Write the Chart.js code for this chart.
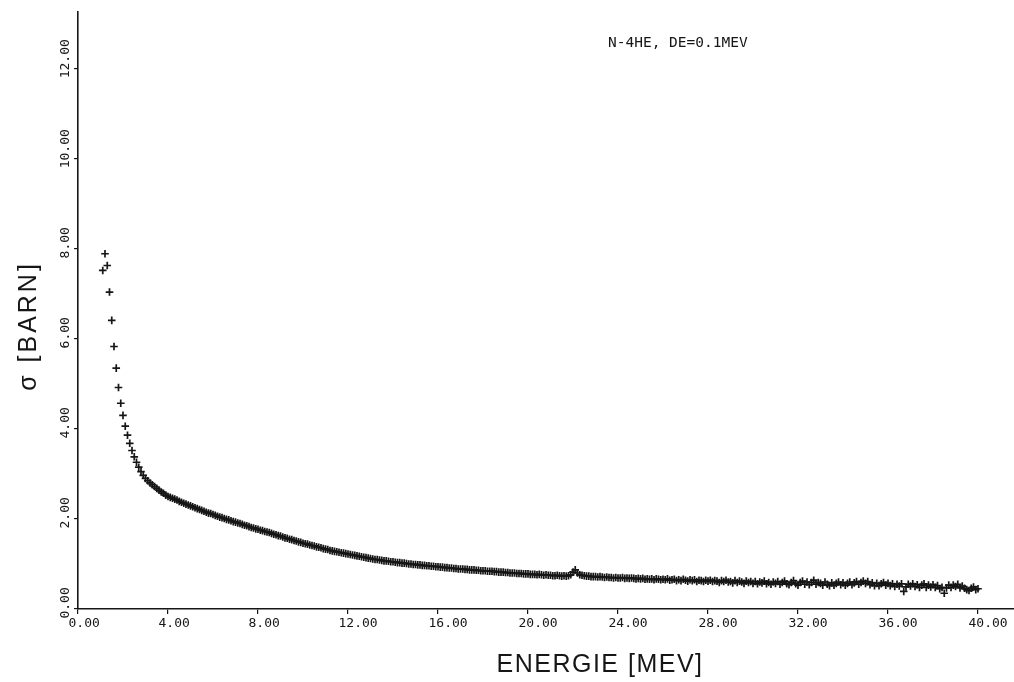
<!DOCTYPE html>
<html><head><meta charset="utf-8">
<script src="https://cdn.jsdelivr.net/npm/chart.js@4/dist/chart.umd.min.js"></script>
<style>html,body{margin:0;padding:0;background:#fff;}canvas{display:block;}</style>
</head><body>
<canvas id="c" width="1014" height="682"></canvas>
<script>
// Energy grid: DE = 0.1 MeV, first point at 1.1 MeV
const E_START = 1.1;
const E_STEP = 0.1;

// Cross section sigma [barn], one value per 0.1 MeV
const sigma = [
  7.52, 7.89, 7.63, 7.04, 6.41, 5.83, 5.35, 4.92, 4.57,
  4.30, 4.06, 3.86, 3.68, 3.52, 3.38, 3.26, 3.15, 3.05, 2.97,
  2.90, 2.85, 2.80, 2.76, 2.72, 2.68, 2.64, 2.60, 2.57, 2.53,
  2.50, 2.48, 2.46, 2.44, 2.42, 2.39, 2.37, 2.35, 2.33, 2.31,
  2.29, 2.27, 2.25, 2.23, 2.21, 2.19, 2.17, 2.15, 2.13, 2.12,
  2.10, 2.08, 2.06, 2.04, 2.03, 2.01, 1.99, 1.98, 1.96, 1.94,
  1.93, 1.91, 1.90, 1.88, 1.86, 1.85, 1.83, 1.81, 1.80, 1.78,
  1.77, 1.75, 1.74, 1.72, 1.71, 1.70, 1.68, 1.66, 1.65, 1.63,
  1.62, 1.60, 1.58, 1.57, 1.55, 1.54, 1.52, 1.51, 1.49, 1.48,
  1.46, 1.45, 1.44, 1.42, 1.41, 1.40, 1.38, 1.37, 1.36, 1.34,
  1.33, 1.32, 1.30, 1.29, 1.28, 1.27, 1.26, 1.25, 1.24, 1.23,
  1.22, 1.21, 1.20, 1.19, 1.18, 1.17, 1.16, 1.15, 1.14, 1.13,
  1.12, 1.11, 1.10, 1.10, 1.09, 1.08, 1.07, 1.07, 1.06, 1.05,
  1.05, 1.04, 1.03, 1.03, 1.02, 1.02, 1.01, 1.00, 1.00, 0.99,
  0.99, 0.98, 0.98, 0.97, 0.97, 0.96, 0.96, 0.95, 0.95, 0.94,
  0.94, 0.93, 0.93, 0.92, 0.92, 0.91, 0.91, 0.90, 0.90, 0.89,
  0.89, 0.89, 0.88, 0.88, 0.87, 0.87, 0.87, 0.86, 0.86, 0.85,
  0.85, 0.85, 0.84, 0.84, 0.84, 0.83, 0.83, 0.82, 0.82, 0.82,
  0.81, 0.81, 0.80, 0.80, 0.80, 0.79, 0.79, 0.79, 0.78, 0.78,
  0.78, 0.77, 0.77, 0.77, 0.76, 0.77, 0.76, 0.75, 0.76, 0.75,
  0.75, 0.74, 0.74, 0.75, 0.74, 0.73, 0.74, 0.73, 0.74, 0.76,
  0.82, 0.87, 0.80, 0.76, 0.75, 0.74, 0.73, 0.73, 0.72, 0.72,
  0.72, 0.71, 0.72, 0.71, 0.70, 0.71, 0.70, 0.70, 0.69, 0.70,
  0.69, 0.69, 0.70, 0.68, 0.69, 0.68, 0.69, 0.68, 0.67, 0.68,
  0.67, 0.68, 0.66, 0.67, 0.66, 0.67, 0.65, 0.67, 0.66, 0.65,
  0.66, 0.65, 0.67, 0.64, 0.65, 0.66, 0.63, 0.65, 0.63, 0.66,
  0.64, 0.62, 0.65, 0.63, 0.65, 0.61, 0.64, 0.63, 0.61, 0.64,
  0.62, 0.64, 0.61, 0.63, 0.62, 0.59, 0.63, 0.61, 0.64, 0.60,
  0.61, 0.58, 0.63, 0.59, 0.62, 0.60, 0.57, 0.62, 0.59, 0.61,
  0.57, 0.61, 0.56, 0.60, 0.58, 0.62, 0.56, 0.59, 0.55, 0.60,
  0.57, 0.61, 0.55, 0.59, 0.62, 0.56, 0.54, 0.59, 0.63, 0.56,
  0.53, 0.59, 0.62, 0.55, 0.60, 0.54, 0.59, 0.64, 0.55, 0.59,
  0.57, 0.53, 0.60, 0.55, 0.52, 0.58, 0.53, 0.57, 0.60, 0.54,
  0.58, 0.53, 0.57, 0.60, 0.54, 0.58, 0.61, 0.55, 0.59, 0.62,
  0.57, 0.61, 0.54, 0.58, 0.52, 0.57, 0.52, 0.56, 0.59, 0.53,
  0.57, 0.52, 0.56, 0.50, 0.55, 0.51, 0.56, 0.39, 0.49, 0.55,
  0.51, 0.56, 0.50, 0.54, 0.48, 0.53, 0.56, 0.48, 0.53, 0.49,
  0.54, 0.48, 0.52, 0.45, 0.48, 0.35, 0.47, 0.53, 0.48, 0.53,
  0.50, 0.55, 0.47, 0.51, 0.46, 0.43, 0.41, 0.46, 0.49, 0.43,
  0.45
];

const energies = sigma.map((_, i) => Math.round((E_START + E_STEP * i) * 10) / 10);

const xTickValues = [0, 4, 8, 12, 16, 20, 24, 28, 32, 36, 40];
const yTickValues = [0, 2, 4, 6, 8, 10, 12];

const xTitle = 'ENERGIE [MEV]';
const yTitle = 'σ [BARN]';
const annotation = 'N-4HE, DE=0.1MEV';

const INK = '#161616';
const MONO = '"DejaVu Sans Mono", "Liberation Mono", monospace';
const SANS = '"Liberation Sans", "DejaVu Sans", sans-serif';

const textPlugin = {
  id: 'plotTexts',
  afterDraw(chart) {
    const ctx = chart.ctx;
    ctx.save();
    ctx.fillStyle = INK;
    // annotation
    ctx.font = '14.5px ' + MONO;
    ctx.textAlign = 'left';
    ctx.textBaseline = 'alphabetic';
    ctx.fillText(annotation, 608, 47);
    // x title
    ctx.font = '25px ' + SANS;
    ctx.letterSpacing = '1.5px';
    ctx.textAlign = 'center';
    ctx.textBaseline = 'middle';
    ctx.fillText(xTitle, 600, 665);
    // y title
    ctx.translate(29, 326);
    ctx.rotate(-Math.PI / 2);
    ctx.font = '25px ' + SANS;
    ctx.letterSpacing = '3px';
    ctx.fillText(yTitle, 0, 0);
    ctx.restore();
  }
};

function zeroPad(s) {
  s.paddingLeft = 0; s.paddingRight = 0; s.paddingTop = 0; s.paddingBottom = 0;
}

new Chart(document.getElementById('c'), {
  type: 'scatter',
  data: {
    datasets: [{
      data: energies.map((e, i) => ({ x: e, y: sigma[i] })),
      showLine: false,
      pointStyle: 'cross',
      pointRadius: 3.8,
      pointBorderWidth: 1.7,
      borderColor: INK,
      backgroundColor: INK
    }]
  },
  options: {
    responsive: false,
    animation: false,
    events: [],
    layout: { autoPadding: false, padding: { top: 12, right: 0, left: 0, bottom: 0 } },
    plugins: { legend: { display: false }, tooltip: { enabled: false } },
    scales: {
      x: {
        type: 'linear',
        min: 0,
        max: 41.6,
        afterBuildTicks: s => { s.ticks = xTickValues.map(v => ({ value: v })); },
        afterFit: s => { s.height = 73; zeroPad(s); },
        ticks: {
          callback: v => Number(v).toFixed(2),
          font: { family: MONO, size: 13 },
          color: INK,
          align: 'start',
          labelOffset: -9.5,
          padding: 2,
          maxRotation: 0,
          minRotation: 0,
          autoSkip: false
        },
        grid: { drawOnChartArea: false, drawTicks: true, tickLength: 5, color: INK, lineWidth: 1.2 },
        border: { display: true, color: INK, width: 1.6 }
      },
      y: {
        min: 0,
        max: 13.26,
        afterBuildTicks: s => { s.ticks = yTickValues.map(v => ({ value: v })); },
        afterFit: s => { s.width = 78; zeroPad(s); },
        ticks: {
          callback: v => Number(v).toFixed(2).padEnd(5, ' '),
          font: { family: MONO, size: 13 },
          color: INK,
          minRotation: 90,
          maxRotation: 90,
          crossAlign: 'center',
          labelOffset: -10,
          padding: -11,
          autoSkip: false
        },
        grid: { drawOnChartArea: false, drawTicks: true, tickLength: 4, color: INK, lineWidth: 1.2 },
        border: { display: true, color: INK, width: 1.6 }
      }
    }
  },
  plugins: [textPlugin]
});
</script>
</body></html>
